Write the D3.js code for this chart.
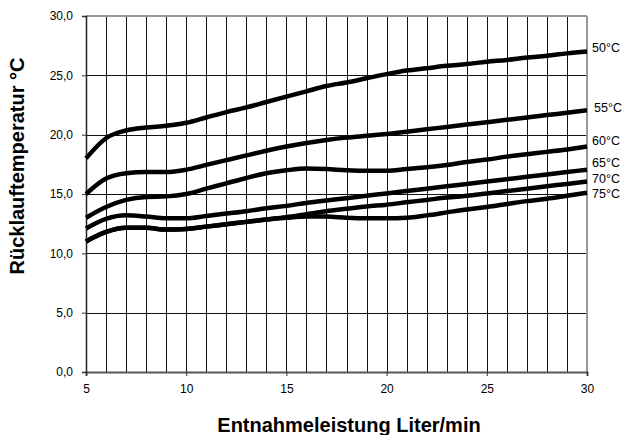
<!DOCTYPE html>
<html><head><meta charset="utf-8">
<script src="https://cdn.jsdelivr.net/npm/d3@7"></script>
<style>body{margin:0;background:#fff}svg{display:block;font-family:"Liberation Sans",Arial,sans-serif}</style>
</head><body><svg id="c" width="625" height="435"></svg>
<script>
const flow = [5,6,7,8,9,10,11,12,13,14,15,16,17,18,19,20,21,22,23,24,25,26,27,28,29,30];
const seriesNames = ["50°C","55°C","60°C","65°C","70°C","75°C"];
const t50 = [18.0,19.7,20.35,20.6,20.75,21.0,21.45,21.9,22.3,22.75,23.2,23.65,24.1,24.4,24.75,25.1,25.4,25.6,25.8,25.95,26.15,26.3,26.5,26.65,26.85,27.0];
const t55 = [15.0,16.3,16.75,16.85,16.85,17.05,17.45,17.85,18.25,18.65,19.0,19.3,19.55,19.75,19.9,20.05,20.25,20.45,20.65,20.85,21.05,21.25,21.45,21.65,21.85,22.05];
const t60 = [13.0,13.9,14.5,14.75,14.8,15.0,15.45,15.9,16.35,16.75,17.0,17.15,17.1,17.0,16.95,16.95,17.1,17.25,17.45,17.7,17.9,18.15,18.35,18.55,18.75,19.0];
const t65 = [12.1,12.9,13.2,13.1,12.95,12.95,13.15,13.35,13.55,13.8,14.0,14.25,14.45,14.65,14.85,15.05,15.25,15.45,15.65,15.85,16.05,16.25,16.45,16.65,16.85,17.05];
const t70 = [11.0,11.8,12.15,12.15,12.0,12.05,12.25,12.45,12.65,12.85,13.05,13.3,13.55,13.75,13.95,14.1,14.3,14.5,14.7,14.85,15.05,15.25,15.45,15.65,15.85,16.05];
const t75 = [11.0,11.8,12.15,12.15,12.0,12.05,12.25,12.45,12.65,12.85,13.0,13.1,13.1,13.0,12.95,12.95,13.0,13.2,13.45,13.7,13.9,14.15,14.4,14.6,14.85,15.1];
const labelY = [48,108,141,163,178.5,193.5];
const xTicks = [5,10,15,20,25,30];
const yTicks = [0,5,10,15,20,25,30];
const xTitle = "Entnahmeleistung Liter/min";
const yTitle = "Rücklauftemperatur °C";

const series = [t50,t55,t60,t65,t70,t75];
const svg = d3.select("#c");
const L=86,R=587,T=16,B=372;
const x = d3.scaleLinear().domain([5,30]).range([L,R]);
const y = d3.scaleLinear().domain([0,30]).range([B,T]);

// grid
const g = svg.append("g").attr("shape-rendering","crispEdges");
g.selectAll("line.v").data(d3.range(6,30)).join("line")
  .attr("x1",d=>Math.round(x(d))+0.5).attr("x2",d=>Math.round(x(d))+0.5)
  .attr("y1",T).attr("y2",B).attr("stroke","#111").attr("stroke-width",1);
g.selectAll("line.h").data([5,10,15,20,25]).join("line")
  .attr("x1",L).attr("x2",R).attr("y1",d=>Math.round(y(d))+0.5).attr("y2",d=>Math.round(y(d))+0.5)
  .attr("stroke","#111").attr("stroke-width",1);
// border
g.append("line").attr("x1",L).attr("x2",R).attr("y1",T).attr("y2",T).attr("stroke","#999").attr("stroke-width",2);
g.append("line").attr("x1",R).attr("x2",R).attr("y1",T).attr("y2",B).attr("stroke","#999").attr("stroke-width",2);

// axes
const xAxis = d3.axisBottom(x).tickValues(xTicks).tickSize(4).tickPadding(8).tickFormat(d3.format("d"));
const ax = svg.append("g").attr("transform",`translate(0,${B})`).call(xAxis);
ax.select(".domain").attr("stroke","#555").attr("stroke-width",2);
ax.selectAll(".tick line").attr("stroke","#333");
ax.selectAll("text").attr("font-size",12).attr("fill","#000").attr("font-family","Liberation Sans, Arial, sans-serif");

const fmt = d => d.toFixed(1).replace(".",",");
const yAxis = d3.axisLeft(y).tickValues(yTicks).tickSize(4).tickPadding(9).tickFormat(fmt);
const ay = svg.append("g").attr("transform",`translate(${L},0)`).call(yAxis);
ay.select(".domain").attr("stroke","#222").attr("stroke-width",1.5);
ay.selectAll(".tick line").attr("stroke","#333");
ay.selectAll("text").attr("font-size",12).attr("fill","#000").attr("font-family","Liberation Sans, Arial, sans-serif");

// lines
const line = d3.line().x((d,i)=>x(flow[i])).y(d=>y(d)).curve(d3.curveMonotoneX);
svg.append("g").selectAll("path").data(series).join("path")
  .attr("d",line).attr("fill","none").attr("stroke","#000").attr("stroke-width",4.5)
  .attr("stroke-linecap","butt").attr("stroke-linejoin","round");

// series labels
svg.append("g").selectAll("text").data(seriesNames).join("text")
  .attr("x",(d,i)=> i===1?594:592).attr("y",(d,i)=>labelY[i]+4.3)
  .attr("font-size",12.5).attr("fill","#000").text(d=>d);

// titles
svg.append("text").attr("x",349).attr("y",432).attr("text-anchor","middle")
  .attr("font-size",20).attr("font-weight","bold").text(xTitle);
svg.append("text").attr("transform","translate(23.5,166) rotate(-90)").attr("text-anchor","middle")
  .attr("font-size",20).attr("font-weight","bold").text(yTitle);
</script></body></html>
